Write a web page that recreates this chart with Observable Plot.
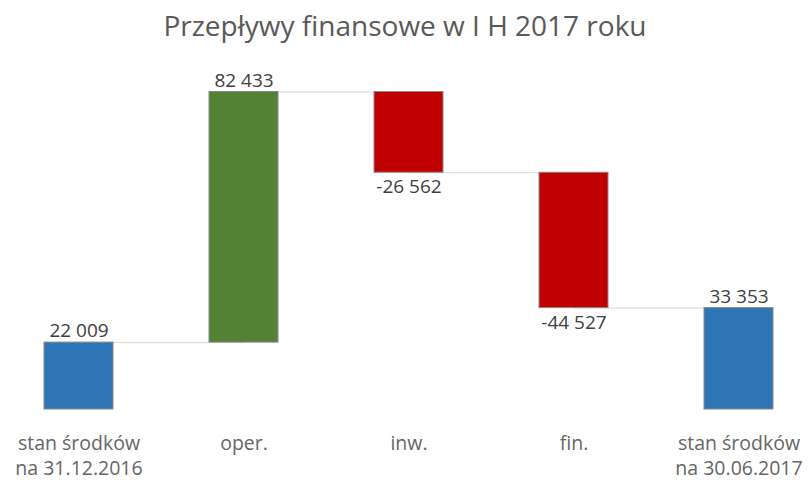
<!DOCTYPE html>
<html>
<head>
<meta charset="utf-8">
<script src="https://cdn.jsdelivr.net/npm/d3@7"></script>
<script src="https://cdn.jsdelivr.net/npm/@observablehq/plot@0.6"></script>
<style>
  body { margin: 0; background: #fff; width: 808px; height: 480px; overflow: hidden; }
  #title { height: 50px; box-sizing: border-box; padding-top: 9px; padding-left: 2px; text-align: center;
    font-family: "Open Sans", sans-serif; font-size: 28px; color: #595959; line-height: 32px; white-space: nowrap; }
  svg { display: block; }
</style>
</head>
<body>
<div id="title">Przepływy finansowe w I H 2017 roku</div>
<div id="chart"></div>
<script>
const categories = ["stan środków\nna 31.12.2016", "oper.", "inw.", "fin.", "stan środków\nna 30.06.2017"];
const values = [22009, 82433, -26562, -44527, 33353];
const kinds = ["total", "delta", "delta", "delta", "total"];
const colors = { total: "#2E75B6", up: "#548235", down: "#C00000" };

const fmt = d3.formatLocale({ thousands: " ", grouping: [3], decimal: ",", currency: ["", ""], minus: "-" }).format(",");

let run = 0;
const rows = categories.map((c, i) => {
  const v = values[i];
  let y1, y2, type;
  if (kinds[i] === "total") { y1 = 0; y2 = v; run = v; type = "total"; }
  else { y1 = run; y2 = run + v; run = y2; type = v >= 0 ? "up" : "down"; }
  return { cat: c, value: v, y1, y2, type, top: Math.max(y1, y2), bottom: Math.min(y1, y2), end: y2 };
});
const links = rows.slice(0, -1).map((r, i) => ({ a: r.cat, b: rows[i + 1].cat, y: r.end }));
const maxY = d3.max(rows, d => d.top);

const plot = Plot.plot({
  width: 808,
  height: 430,
  marginTop: 41.5,
  marginBottom: 71,
  marginLeft: 0,
  marginRight: 0,
  style: { fontFamily: "'Open Sans', sans-serif", background: "#fff" },
  x: { domain: categories, range: [-4, 821], paddingInner: 0.58, paddingOuter: 0.29, axis: null },
  y: { domain: [0, maxY], axis: null },
  marks: [
    Plot.link(links, { x1: "a", x2: "b", y1: "y", y2: "y", stroke: "#d9d9d9", strokeWidth: 1 }),
    Plot.barY(rows, { x: "cat", y1: "y1", y2: "y2", fill: d => colors[d.type], stroke: "#8a8a8a", strokeWidth: 1 }),
    Plot.text(rows.filter(d => d.value >= 0), { x: "cat", y: "top", text: d => fmt(d.value), lineAnchor: "bottom", dy: -5.5, fontSize: 19, fill: "#404040" }),
    Plot.text(rows.filter(d => d.value < 0), { x: "cat", y: "bottom", text: d => fmt(d.value), lineAnchor: "top", dy: 7, fontSize: 19, fill: "#404040" }),
    Plot.axisX({ tickSize: 0, tickPadding: 22.5, fontSize: 19.5, lineHeight: 1.28, fill: "#666666", label: null })
  ]
});
document.getElementById("chart").appendChild(plot);
</script>
</body>
</html>
